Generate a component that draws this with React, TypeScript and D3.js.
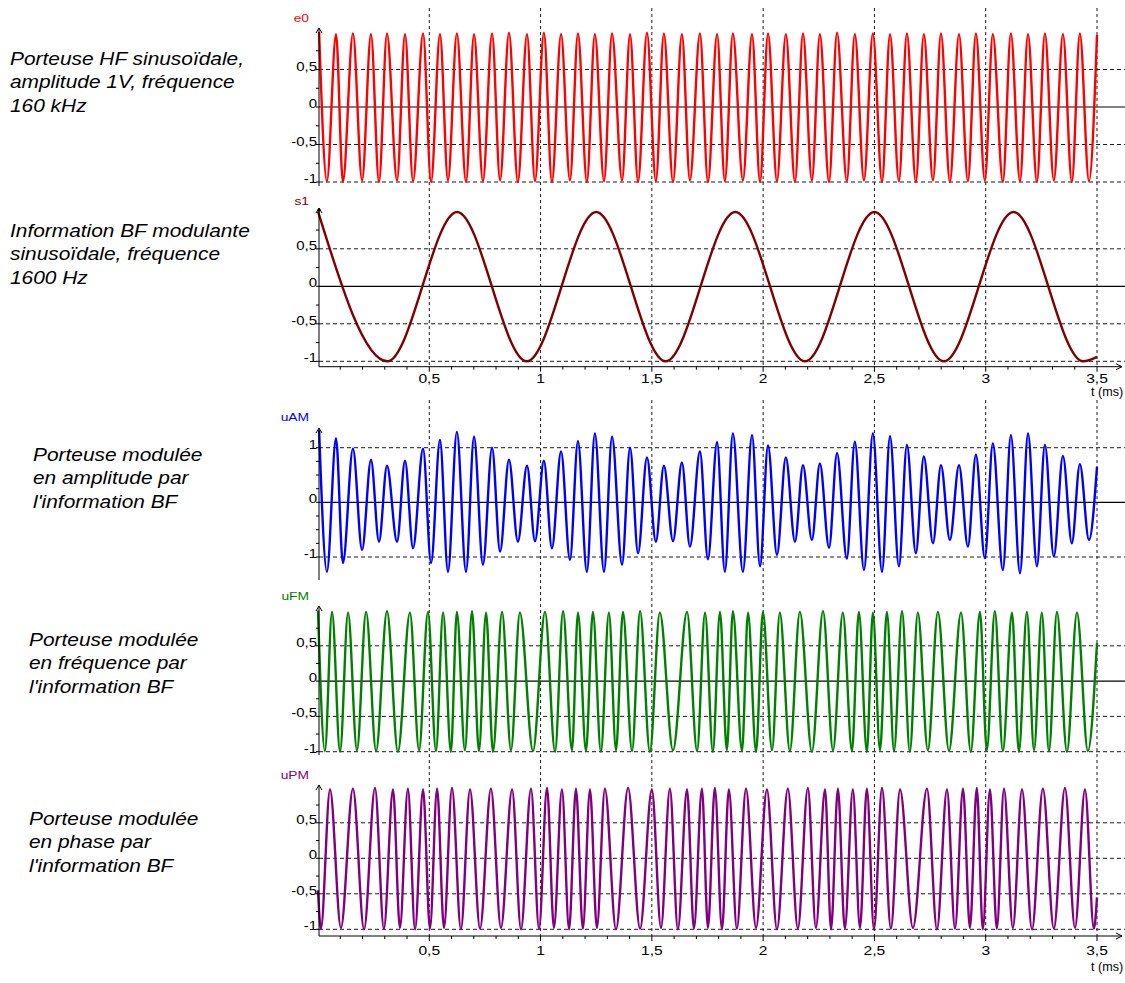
import React, { useEffect, useRef } from "react";
import * as d3 from "d3";

// all times in ms, all values in V (extrema of each trace)

// carrier e0 (and the AM trace, same carrier): times of maxima / minima
const carrierPeakT = [0.005, 0.081, 0.157, 0.238, 0.31, 0.391, 0.472, 0.548, 0.624, 0.701, 0.782, 0.858, 0.939, 1.015, 1.092, 1.168, 1.244, 1.321, 1.402, 1.478, 1.554, 1.635, 1.716, 1.793, 1.864, 1.95, 2.022, 2.102, 2.179, 2.255, 2.332, 2.412, 2.493, 2.57, 2.646, 2.722, 2.799, 2.88, 2.956, 3.032, 3.113, 3.19, 3.266, 3.347, 3.423, 3.5];
const carrierTroughT = [0.04, 0.112, 0.198, 0.274, 0.355, 0.427, 0.508, 0.584, 0.665, 0.741, 0.818, 0.898, 0.975, 1.051, 1.132, 1.208, 1.285, 1.366, 1.438, 1.518, 1.595, 1.671, 1.752, 1.828, 1.909, 1.986, 2.062, 2.143, 2.219, 2.296, 2.376, 2.453, 2.534, 2.61, 2.686, 2.763, 2.839, 2.92, 2.996, 3.077, 3.154, 3.23, 3.306, 3.387, 3.464];

const e0PeakV = [1.0, 0.97, 0.98, 0.97, 0.98, 0.97, 0.98, 0.97, 0.98, 0.97, 0.98, 0.99, 0.97, 0.99, 0.97, 0.98, 0.97, 0.98, 0.97, 0.99, 0.98, 0.97, 0.98, 0.97, 0.98, 0.97, 0.98, 0.97, 0.98, 0.97, 0.99, 0.97, 0.98, 0.97, 0.98, 0.97, 0.98, 0.97, 0.98, 0.97, 0.98, 0.97, 0.98, 0.97, 0.98, 0.96];
const e0TroughV = [-0.99, -1.0, -0.98, -1.0, -0.98, -0.99, -1.0, -0.98, -1.0, -0.99, -0.98, -1.0, -0.99, -1.0, -0.98, -1.0, -0.99, -0.98, -1.0, -0.99, -1.0, -0.98, -1.0, -0.99, -0.98, -1.0, -0.99, -1.0, -0.98, -1.0, -0.99, -0.98, -1.0, -0.99, -1.0, -0.98, -1.0, -0.99, -0.98, -1.0, -0.99, -1.0, -0.98, -1.0, -0.99];

// s1: modulating signal 1600 Hz
const s1T = [0, 0.312, 0.625, 0.938, 1.25, 1.562, 1.875, 2.188, 2.5, 2.812, 3.125, 3.438, 3.5];
const s1V = [1.0, -1.0, 0.99, -1.0, 0.99, -1.0, 0.99, -1.0, 0.99, -1.0, 0.99, -1.0, -0.94];

// uAM: same carrier times, envelope follows s1
const uamPeakV = [1.32, 1.17, 0.98, 0.78, 0.67, 0.76, 0.98, 1.14, 1.29, 1.2, 1.0, 0.78, 0.67, 0.76, 0.93, 1.12, 1.26, 1.2, 1.0, 0.82, 0.67, 0.73, 0.93, 1.1, 1.26, 1.23, 1.04, 0.82, 0.68, 0.71, 0.9, 1.11, 1.26, 1.21, 1.05, 0.84, 0.68, 0.68, 0.87, 1.08, 1.23, 1.26, 1.05, 0.85, 0.7, 0.65];
const uamTroughV = [-1.27, -1.11, -0.87, -0.72, -0.72, -0.84, -1.11, -1.27, -1.27, -1.14, -0.9, -0.72, -0.71, -0.84, -1.05, -1.27, -1.27, -1.14, -0.93, -0.72, -0.71, -0.81, -1.04, -1.27, -1.27, -1.17, -0.96, -0.72, -0.69, -0.83, -1.03, -1.24, -1.27, -1.17, -0.93, -0.75, -0.69, -0.81, -1.02, -1.24, -1.3, -1.17, -0.99, -0.75, -0.69];

// uFM
const ufmPeakT = [0.0, 0.063, 0.135, 0.216, 0.31, 0.413, 0.494, 0.562, 0.624, 0.692, 0.755, 0.827, 0.907, 1.02, 1.101, 1.168, 1.235, 1.307, 1.37, 1.447, 1.536, 1.658, 1.739, 1.806, 1.864, 1.932, 1.999, 2.075, 2.165, 2.269, 2.358, 2.43, 2.493, 2.556, 2.624, 2.695, 2.785, 2.889, 2.974, 3.041, 3.118, 3.185, 3.252, 3.32, 3.41];
const ufmTroughT = [0.031, 0.099, 0.175, 0.261, 0.359, 0.454, 0.53, 0.597, 0.66, 0.723, 0.786, 0.867, 0.966, 1.065, 1.141, 1.204, 1.271, 1.339, 1.411, 1.491, 1.595, 1.703, 1.774, 1.837, 1.905, 1.968, 2.04, 2.12, 2.219, 2.314, 2.399, 2.466, 2.525, 2.588, 2.659, 2.74, 2.835, 2.933, 3.005, 3.077, 3.149, 3.217, 3.284, 3.365, 3.459];
const ufmPeakV = [1.0, 0.98, 0.97, 0.98, 0.99, 0.97, 0.98, 0.97, 0.98, 0.99, 0.97, 0.98, 0.97, 0.98, 0.99, 0.97, 0.98, 0.97, 0.98, 0.99, 0.97, 0.98, 0.97, 0.98, 0.99, 0.97, 0.98, 0.97, 0.98, 0.99, 0.97, 0.98, 0.97, 0.98, 0.99, 0.97, 0.98, 0.97, 0.98, 0.99, 0.97, 0.98, 0.97, 0.98, 0.97];
const ufmTroughV = [-0.99, -1.0, -0.98, -0.99, -1.0, -0.98, -0.99, -1.0, -0.98, -0.99, -1.0, -0.98, -0.99, -1.0, -0.98, -0.99, -1.0, -0.98, -0.99, -1.0, -0.98, -0.99, -1.0, -0.98, -0.99, -1.0, -0.98, -0.99, -1.0, -0.98, -0.99, -1.0, -0.98, -0.99, -1.0, -0.98, -0.99, -1.0, -0.98, -0.99, -1.0, -0.98, -0.99, -1.0, -0.99];
const ufmEdgeT = [3.5];
const ufmEdgeV = [0.54];

// uPM
const upmPeakT = [0.054, 0.157, 0.256, 0.337, 0.404, 0.472, 0.535, 0.602, 0.683, 0.777, 0.872, 0.957, 1.029, 1.096, 1.159, 1.222, 1.289, 1.393, 1.5, 1.581, 1.658, 1.725, 1.783, 1.846, 1.923, 2.017, 2.111, 2.201, 2.278, 2.336, 2.403, 2.466, 2.534, 2.615, 2.736, 2.826, 2.898, 2.96, 3.019, 3.082, 3.163, 3.257, 3.356, 3.446];
const upmTroughT = [0.013, 0.103, 0.207, 0.296, 0.368, 0.436, 0.503, 0.566, 0.642, 0.728, 0.822, 0.912, 0.993, 1.06, 1.128, 1.19, 1.253, 1.339, 1.447, 1.541, 1.617, 1.689, 1.752, 1.815, 1.882, 1.968, 2.062, 2.156, 2.237, 2.305, 2.367, 2.435, 2.498, 2.574, 2.673, 2.781, 2.862, 2.929, 2.987, 3.05, 3.122, 3.208, 3.306, 3.401, 3.486];
const upmPeakV = [0.97, 0.98, 0.99, 0.97, 0.98, 0.97, 0.98, 0.99, 0.97, 0.98, 0.97, 0.98, 0.99, 0.97, 0.98, 0.97, 0.98, 0.99, 0.97, 0.98, 0.97, 0.98, 0.99, 0.97, 0.98, 0.97, 0.98, 0.99, 0.97, 0.98, 0.97, 0.98, 0.99, 0.97, 0.98, 0.97, 0.98, 0.99, 0.97, 0.98, 0.97, 0.98, 0.99, 0.97];
const upmTroughV = [-0.99, -0.98, -1.0, -0.99, -0.98, -1.0, -0.99, -0.98, -1.0, -0.99, -0.98, -1.0, -0.99, -0.98, -1.0, -0.99, -0.98, -1.0, -0.99, -0.98, -1.0, -0.99, -0.98, -1.0, -0.99, -0.98, -1.0, -0.99, -0.98, -1.0, -0.99, -0.98, -1.0, -0.99, -0.98, -1.0, -0.99, -0.98, -1.0, -0.99, -0.98, -1.0, -0.99, -0.98, -0.99];
const upmEdgeT = [0, 3.5];
const upmEdgeV = [-0.45, -0.55];

// axis ticks
const xMajorTicks = [0.5, 1, 1.5, 2, 2.5, 3, 3.5];
const xMinorTicks = d3.range(1, 36).map((i) => i / 10);

type Pt = { t: number; v: number };
const merge = (pt: number[], pv: number[], tt: number[], tv: number[], et: number[] = [], ev: number[] = []): Pt[] => {
  const pts: Pt[] = [];
  pt.forEach((t, i) => pts.push({ t, v: pv[i] }));
  tt.forEach((t, i) => pts.push({ t, v: tv[i] }));
  et.forEach((t, i) => pts.push({ t, v: ev[i] }));
  return pts.sort((a, b) => a.t - b.t);
};

const panels = [
  {
    name: "e0", color: "#ff0000",
    data: merge(carrierPeakT, e0PeakV, carrierTroughT, e0TroughV),
    yPlus: 32, yMinus: 182, top: 28, bottom: 186, nameY: 22,
    dashed: [0.5, -0.5, -1], zero: "#555", ticks: [0.5, 0, -0.5, -1],
    text: ["Porteuse HF sinusoïdale,", "amplitude 1V, fréquence", "160 kHz"], textX: 10, textY: 65,
  },
  {
    name: "s1", color: "#800000",
    data: s1T.map((t, i) => ({ t, v: s1V[i] })),
    yPlus: 211.3, yMinus: 361.3, top: 208, bottom: 366.7, nameY: 205,
    dashed: [0.5, -0.5, -1], zero: "#000", ticks: [0.5, 0, -0.5, -1],
    text: ["Information BF modulante", "sinusoïdale, fréquence", "1600 Hz"], textX: 10, textY: 237,
  },
  {
    name: "uAM", color: "#0000ff",
    data: merge(carrierPeakT, uamPeakV, carrierTroughT, uamTroughV),
    yPlus: 447.7, yMinus: 557, top: 428, bottom: 580, nameY: 421,
    dashed: [1, -1], zero: "#000", ticks: [1, 0, -1],
    text: ["Porteuse modulée", "en amplitude par", "l'information BF"], textX: 33, textY: 461,
  },
  {
    name: "uFM", color: "#008000",
    data: merge(ufmPeakT, ufmPeakV, ufmTroughT, ufmTroughV, ufmEdgeT, ufmEdgeV),
    yPlus: 610.5, yMinus: 751.7, top: 606, bottom: 755, nameY: 600,
    dashed: [0.5, -0.5, -1], zero: "#000", ticks: [0.5, 0, -0.5, -1],
    text: ["Porteuse modulée", "en fréquence par", "l'information BF"], textX: 29, textY: 646,
  },
  {
    name: "uPM", color: "#800080",
    data: merge(upmPeakT, upmPeakV, upmTroughT, upmTroughV, upmEdgeT, upmEdgeV),
    yPlus: 787.3, yMinus: 929.3, top: 785, bottom: 936, nameY: 779,
    dashed: [0.5, 0, -0.5, -1], zero: null, ticks: [0.5, 0, -0.5, -1],
    text: ["Porteuse modulée", "en phase par", "l'information BF"], textX: 29, textY: 825,
  },
];

const groups = [
  { top: 8, axisY: 366.7, labelDy: 16, unitX: 1091, unitDy: 29 },
  { top: 400, axisY: 936, labelDy: 19, unitX: 1091, unitDy: 35 },
];

const AX = 319;
const RIGHT = 1125;
const SANS = "'Liberation Sans', Arial, sans-serif";

export default function App() {
  const ref = useRef<SVGSVGElement>(null);

  useEffect(() => {
    const svg = d3.select(ref.current);
    svg.selectAll("*").remove();

    const x = d3.scaleLinear().domain([0, 3.5]).range([318, 1097]);
    const fmt = d3
      .formatLocale({ decimal: ",", thousands: " ", grouping: [3], currency: ["", ""], minus: "-" })
      .format("~g");

    // vertical grid
    groups.forEach((g) => {
      svg.append("g")
        .selectAll("line")
        .data(xMajorTicks)
        .join("line")
        .attr("x1", (d) => x(d)).attr("x2", (d) => x(d))
        .attr("y1", g.top).attr("y2", g.axisY)
        .attr("stroke", "#1a1a1a").attr("stroke-dasharray", "3,3");
    });

    panels.forEach((p) => {
      const y = d3.scaleLinear().domain([-1, 1]).range([p.yMinus, p.yPlus]);
      const g = svg.append("g");

      g.selectAll("line.grid")
        .data(p.dashed)
        .join("line")
        .attr("class", "grid")
        .attr("x1", AX).attr("x2", RIGHT)
        .attr("y1", (d) => y(d)).attr("y2", (d) => y(d))
        .attr("stroke", "#1a1a1a").attr("stroke-dasharray", "4,3");

      if (p.zero) {
        g.append("line")
          .attr("x1", AX).attr("x2", RIGHT)
          .attr("y1", y(0)).attr("y2", y(0))
          .attr("stroke", p.zero).attr("stroke-width", 1.3);
      }

      const line = d3.line<Pt>().x((d) => x(d.t)).y((d) => y(d.v)).curve(d3.curveMonotoneX);
      g.append("path")
        .attr("d", line(p.data))
        .attr("fill", "none")
        .attr("stroke", p.color)
        .attr("stroke-width", 2.4)
        .attr("stroke-linejoin", "round");

      // y axis
      g.append("line")
        .attr("x1", AX).attr("x2", AX).attr("y1", p.top).attr("y2", p.bottom)
        .attr("stroke", "#000");
      g.append("path")
        .attr("d", `M${AX - 3},${p.top + 5}L${AX},${p.top}L${AX + 3},${p.top + 5}`)
        .attr("fill", "none").attr("stroke", "#000");

      const minor = d3.range(-4, 5).map((i) => i / 4).filter((v) => y(v) > p.top + 6 && y(v) < p.bottom);
      g.selectAll("line.mt")
        .data(minor)
        .join("line")
        .attr("class", "mt")
        .attr("x1", AX - 3).attr("x2", AX)
        .attr("y1", (d) => y(d)).attr("y2", (d) => y(d))
        .attr("stroke", "#000");

      g.selectAll("text.yl")
        .data(p.ticks)
        .join("text")
        .attr("class", "yl")
        .attr("transform", (d) => `translate(317,${y(d) + 1}) scale(1.2,1)`)
        .attr("text-anchor", "end")
        .attr("font-family", SANS).attr("font-size", 12.5)
        .attr("fill", "#000")
        .text((d) => fmt(d));

      g.append("text")
        .attr("transform", `translate(309,${p.nameY}) scale(1.2,1)`)
        .attr("text-anchor", "end")
        .attr("font-family", SANS).attr("font-size", 11.5)
        .attr("fill", p.color)
        .text(p.name);

      g.selectAll("text.desc")
        .data(p.text)
        .join("text")
        .attr("class", "desc")
        .attr("transform", (_, i) => `translate(${p.textX},${p.textY + i * 23.3}) scale(1.16,1)`)
        .attr("font-family", SANS).attr("font-style", "italic").attr("font-size", 18)
        .attr("fill", "#000")
        .text((d) => d);
    });

    // time axes
    groups.forEach((g) => {
      const a = svg.append("g");
      a.append("line")
        .attr("x1", AX).attr("x2", 1122).attr("y1", g.axisY).attr("y2", g.axisY)
        .attr("stroke", "#000");
      a.append("path")
        .attr("d", `M1116,${g.axisY - 3}L1122,${g.axisY}L1116,${g.axisY + 3}`)
        .attr("fill", "none").attr("stroke", "#000");
      a.selectAll("line.minor")
        .data(xMinorTicks)
        .join("line")
        .attr("class", "minor")
        .attr("x1", (d) => x(d)).attr("x2", (d) => x(d))
        .attr("y1", g.axisY).attr("y2", (d) => g.axisY + (Math.round(d * 10) % 5 === 0 ? 5 : 3))
        .attr("stroke", "#000");
      a.selectAll("text.xl")
        .data(xMajorTicks)
        .join("text")
        .attr("class", "xl")
        .attr("transform", (d) => `translate(${x(d)},${g.axisY + g.labelDy}) scale(1.2,1)`)
        .attr("text-anchor", "middle")
        .attr("font-family", SANS).attr("font-size", 13)
        .text((d) => fmt(d));
      a.append("text")
        .attr("transform", `translate(${g.unitX},${g.axisY + g.unitDy}) scale(1.05,1)`)
        .attr("font-family", SANS).attr("font-size", 12)
        .text("t (ms)");
    });

    svg.append("circle").attr("cx", AX).attr("cy", 210).attr("r", 1.6).attr("fill", "#000");
  }, []);

  return (
    <svg
      ref={ref}
      width={1125}
      height={983}
      style={{ position: "absolute", left: 0, top: 0, background: "#fff" }}
    />
  );
}
